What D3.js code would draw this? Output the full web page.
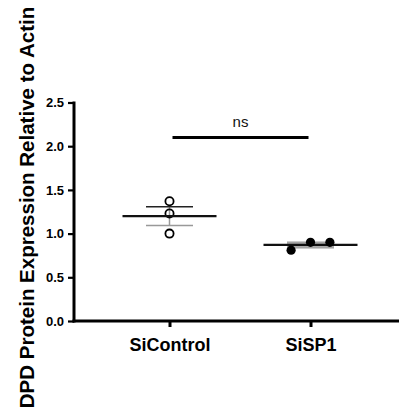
<!DOCTYPE html>
<html>
<head>
<meta charset="utf-8">
<script src="https://cdn.jsdelivr.net/npm/d3@7"></script>
<style>
  html, body { margin: 0; padding: 0; background: #fff; }
  svg { display: block; }
  text { font-family: "Liberation Sans", Arial, sans-serif; }
</style>
</head>
<body>
<svg id="chart" width="400" height="420"></svg>
<script>
// ---- data ----
const categories = ["SiControl", "SiSP1"];
const siControlValues = [1.37, 1.23, 1.00];
const siSP1Values = [0.81, 0.90, 0.90];
const yTicks = [0.0, 0.5, 1.0, 1.5, 2.0, 2.5];
const yLabel = "DPD Protein Expression Relative to Actin";
const sigLabel = "ns";

const groups = [
  { name: categories[0], values: siControlValues, filled: false },
  { name: categories[1], values: siSP1Values, filled: true }
];

const svg = d3.select("#chart");

const x = d3.scalePoint().domain(categories).range([169.5, 310.5]);
const y = d3.scaleLinear().domain([0, 2.5]).range([321, 102.5]);

const axisX0 = 74, axisX1 = 399;

// stats
groups.forEach(g => {
  g.mean = d3.mean(g.values);
  g.sem = d3.deviation(g.values) / Math.sqrt(g.values.length);
});

// y axis
const yAxis = svg.append("g").attr("transform", `translate(${axisX0},0)`)
  .call(d3.axisLeft(y).tickValues(yTicks).tickFormat(d3.format(".1f")).tickSize(6).tickPadding(4));
yAxis.select(".domain").attr("stroke", "#000").attr("stroke-width", 3)
  .attr("d", `M0,${y(2.5) - 1}V${y(0) + 1.5}`);
yAxis.selectAll(".tick line").attr("stroke", "#000").attr("stroke-width", 2.2);
yAxis.selectAll(".tick text").attr("font-size", 13).attr("font-weight", "bold").attr("fill", "#000")
  .style("font-family", '"Liberation Sans", Arial, sans-serif');

// x axis
const xAxis = svg.append("g").attr("transform", `translate(0,${y(0)})`)
  .call(d3.axisBottom(x).tickSize(6).tickPadding(10));
xAxis.select(".domain").attr("stroke", "#000").attr("stroke-width", 3)
  .attr("d", `M${axisX0 - 1.5},0H${axisX1}`);
xAxis.selectAll(".tick line").attr("stroke", "#000").attr("stroke-width", 3);
xAxis.selectAll(".tick text").attr("font-size", 18).attr("font-weight", "bold").attr("fill", "#000")
  .attr("dy", "0.71em").attr("y", 17)
  .style("font-family", '"Liberation Sans", Arial, sans-serif');

// y label
svg.append("text")
  .attr("transform", `translate(33.5, 207.5) rotate(-90)`)
  .attr("text-anchor", "middle")
  .attr("font-size", 20.5)
  .attr("font-weight", "bold")
  .attr("fill", "#000")
  .text(yLabel);

// significance bar
svg.append("line")
  .attr("x1", x(categories[0]) + 3).attr("x2", x(categories[1]) - 2)
  .attr("y1", y(2.1)).attr("y2", y(2.1))
  .attr("stroke", "#000").attr("stroke-width", 3);
svg.append("text")
  .attr("x", (x(categories[0]) + x(categories[1])) / 2 + 0.5)
  .attr("y", y(2.1) - 10)
  .attr("text-anchor", "middle")
  .attr("font-size", 15)
  .attr("fill", "#111")
  .text(sigLabel);

// points + mean/SEM
const r = 4.6;
const spread = 19.4;
groups.forEach(g => {
  const cx = x(g.name);
  // error bars
  const semHalf = 23.5, meanHalf = 47;
  svg.append("line").attr("x1", cx).attr("x2", cx)
    .attr("y1", y(g.mean + g.sem)).attr("y2", y(g.mean - g.sem))
    .attr("stroke", "#999").attr("stroke-width", 1.5);
  svg.append("line").attr("x1", cx - semHalf).attr("x2", cx + semHalf)
    .attr("y1", y(g.mean + g.sem)).attr("y2", y(g.mean + g.sem))
    .attr("stroke", g.filled ? "#999" : "#222").attr("stroke-width", 1.6);
  svg.append("line").attr("x1", cx - semHalf).attr("x2", cx + semHalf)
    .attr("y1", y(g.mean - g.sem)).attr("y2", y(g.mean - g.sem))
    .attr("stroke", "#999").attr("stroke-width", 1.6);
  if (g.filled) {
    svg.append("rect").attr("x", cx - semHalf).attr("width", semHalf * 2)
      .attr("y", y(g.mean + g.sem)).attr("height", y(g.mean - g.sem) - y(g.mean + g.sem))
      .attr("fill", "#aaa");
  }

  // swarm layout: group points with close pixel y into rows, center them
  const pts = g.values.map(v => ({ v, py: y(v) })).sort((a, b) => a.v - b.v);
  const rows = [];
  pts.forEach(p => {
    const row = rows.find(rw => rw.some(q => Math.abs(q.py - p.py) < 2 * r + 1));
    if (row) row.push(p); else rows.push([p]);
  });
  rows.forEach(row => {
    row.forEach((p, i) => { p.px = cx + (i - (row.length - 1) / 2) * spread; });
  });

  // mean line (drawn before filled points, after for open)
  const drawMean = () => svg.append("line")
    .attr("x1", cx - meanHalf).attr("x2", cx + meanHalf)
    .attr("y1", y(g.mean)).attr("y2", y(g.mean))
    .attr("stroke", "#111").attr("stroke-width", 2.2);

  if (g.filled) drawMean();
  svg.append("g").selectAll("circle").data(pts).join("circle")
    .attr("cx", d => d.px).attr("cy", d => d.py).attr("r", g.filled ? r : r - 0.5)
    .attr("fill", g.filled ? "#000" : "none")
    .attr("stroke", "#000").attr("stroke-width", g.filled ? 0 : 1.8);
  if (!g.filled) drawMean();
});
</script>
</body>
</html>
